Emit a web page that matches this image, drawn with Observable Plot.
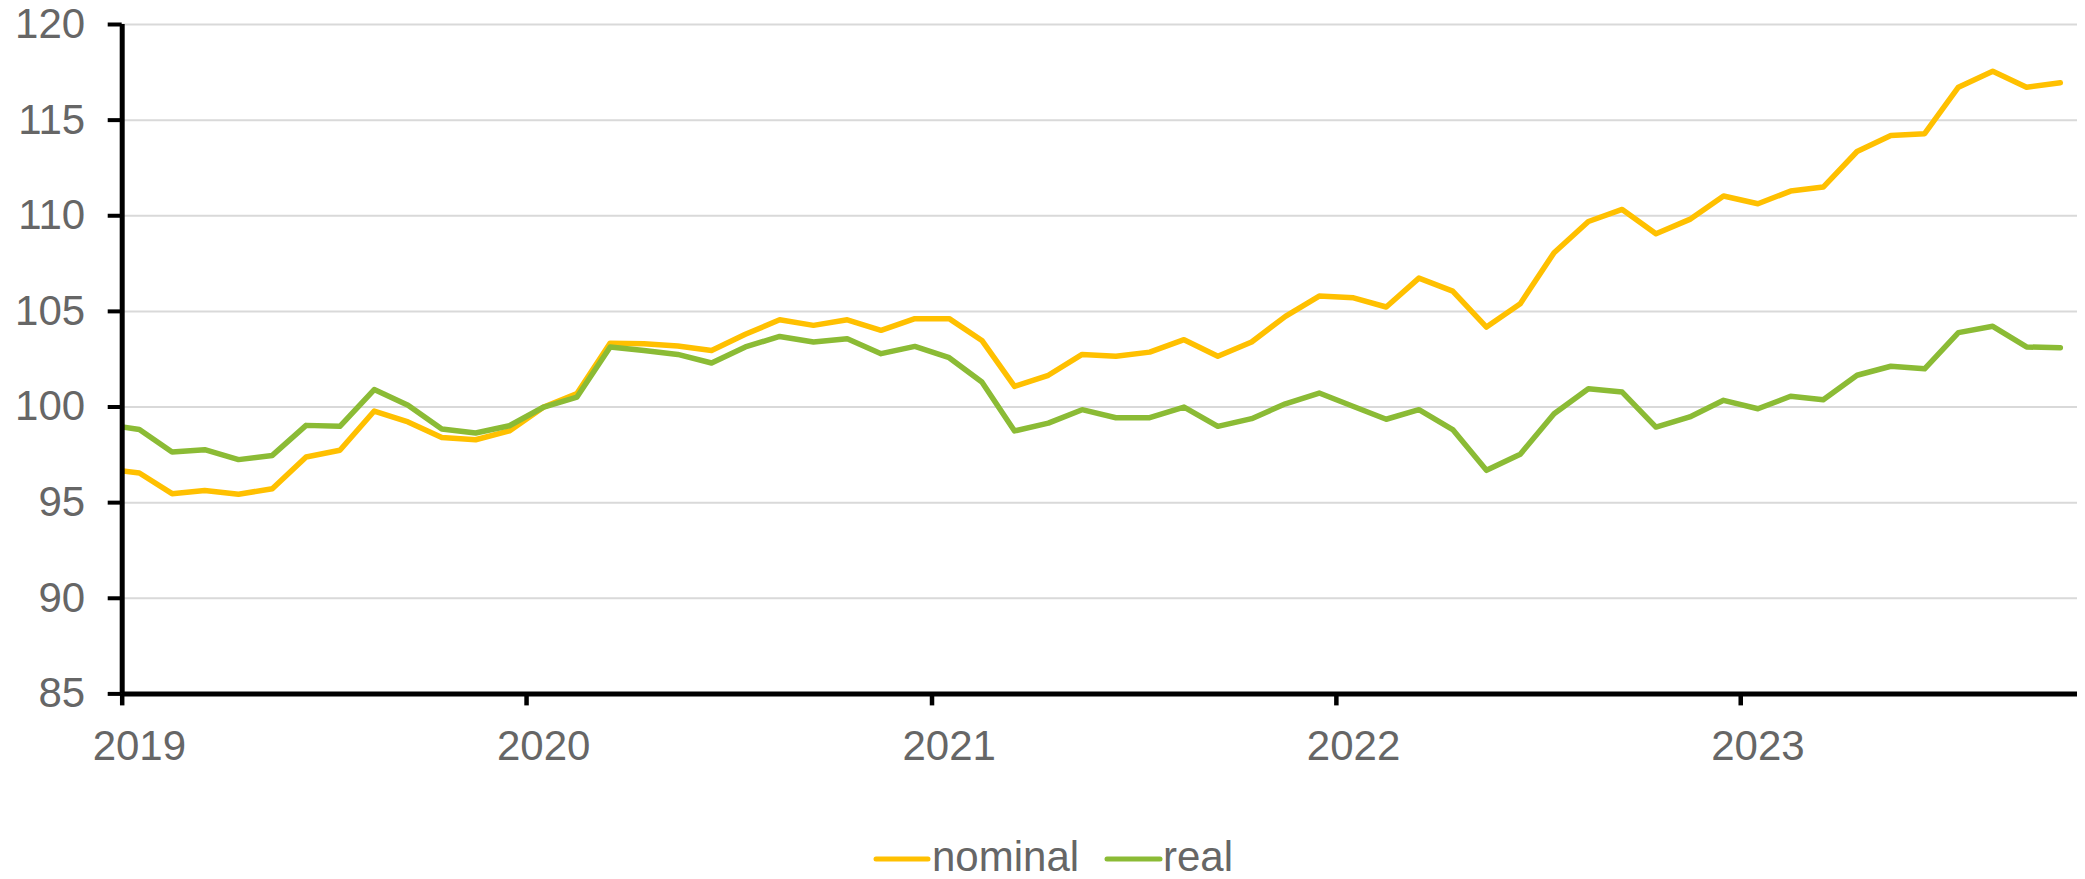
<!DOCTYPE html>
<html><head><meta charset="utf-8">
<script src="https://cdn.jsdelivr.net/npm/d3@7"></script>
<script src="https://cdn.jsdelivr.net/npm/@observablehq/plot@0.6"></script>
<style>
body{margin:0;background:#fff;font-family:"Liberation Sans",Arial,sans-serif;}
#chart svg,#legend svg{display:block}
</style></head><body>
<div id="chart"></div>
<div id="legend"></div>
<script>
// monthly observations, Dec 2018 .. Oct 2023 (Dec 2018 lies left of the axis and is clipped)
const firstMonth = "2018-12-01";
const lastMonth = "2023-10-01";
const nominal = [96.76,
  96.55, 95.47, 95.64, 95.44, 95.73, 97.39, 97.74, 99.79, 99.22, 98.40, 98.29, 98.75,
  100.00, 100.70, 103.34, 103.31, 103.19, 102.96, 103.80, 104.56, 104.27, 104.56, 104.01, 104.62,
  104.62, 103.48, 101.08, 101.66, 102.75, 102.65, 102.87, 103.52, 102.65, 103.40, 104.74, 105.80,
  105.71, 105.23, 106.74, 106.06, 104.18, 105.40, 108.07, 109.70, 110.33, 109.06, 109.81, 111.03,
  110.63, 111.29, 111.50, 113.36, 114.20, 114.29, 116.72, 117.56, 116.72, 116.95];
const real = [99.10,
  98.82, 97.65, 97.77, 97.25, 97.47, 99.04, 98.99, 100.91, 100.09, 98.85, 98.64, 99.02,
  100.00, 100.52, 103.14, 102.96, 102.75, 102.30, 103.14, 103.69, 103.40, 103.57, 102.79, 103.17,
  102.58, 101.31, 98.75, 99.16, 99.86, 99.44, 99.44, 100.00, 98.99, 99.39, 100.17, 100.73,
  100.03, 99.36, 99.86, 98.82, 96.69, 97.53, 99.65, 100.96, 100.78, 98.95, 99.48, 100.35,
  99.91, 100.56, 100.38, 101.66, 102.13, 102.00, 103.89, 104.22, 103.14, 103.10];
const seriesNames = ["nominal", "real"];
const seriesColors = ["#FFC000", "#8BBB35"];
const yearLabels = ["2019", "2020", "2021", "2022", "2023"];
const yTicks = [85, 90, 95, 100, 105, 110, 115, 120];
const axisStart = "2019-01-01";
const axisEnd = "2023-11-01";

const textColor = "#666666";
const months = d3.utcMonth.range(new Date(firstMonth), d3.utcMonth.offset(new Date(lastMonth), 1));
const mid = m => new Date((m.getTime() + d3.utcMonth.offset(m, 1).getTime()) / 2);
const table = months.flatMap((m, i) => [
  {date: mid(m), value: nominal[i], series: seriesNames[0]},
  {date: mid(m), value: real[i], series: seriesNames[1]}
]);
const yearStarts = yearLabels.map(y => new Date(`${y}-01-01`));
const yearMids = yearStarts.map(mid);

const chart = Plot.plot({
  width: 2085,
  height: 800,
  marginTop: 24,
  marginBottom: 106.6,
  marginLeft: 121.7,
  marginRight: 8,
  x: {type: "utc", domain: [new Date(axisStart), new Date(axisEnd)]},
  y: {domain: [85, 120]},
  color: {domain: seriesNames, range: seriesColors},
  style: {fontFamily: "'Liberation Sans', Arial, sans-serif", background: "white", overflow: "visible"},
  marks: [
    Plot.gridY(yTicks, {stroke: "#d9d9d9", strokeOpacity: 1, strokeWidth: 2}),
    Plot.line(table, {x: "date", y: "value", z: "series", stroke: "series", strokeWidth: 5.5,
      strokeLinejoin: "round", strokeLinecap: "round", clip: true}),
    Plot.ruleX([new Date(axisStart)], {stroke: "black", strokeWidth: 5}),
    Plot.ruleY([85], {stroke: "black", strokeWidth: 5}),
    Plot.axisY({ticks: yTicks, tickSize: 14, tickPadding: 23, stroke: "black", strokeWidth: 4,
      fill: textColor, fontSize: 42, label: null}),
    Plot.axisX({ticks: yearStarts, tickSize: 12, tickFormat: () => "", stroke: "black", strokeWidth: 4.5, label: null}),
    Plot.axisX({ticks: yearMids, tickSize: 0, tickPadding: 36, tickFormat: d => String(d.getUTCFullYear()),
      fill: textColor, fontSize: 42, label: null})
  ]
});
document.getElementById("chart").appendChild(chart);

// legend below the chart
const leg = d3.select("#legend").append("svg").attr("width", 2085).attr("height", 79)
  .style("font-family", "'Liberation Sans', Arial, sans-serif");
const legItems = [
  {name: seriesNames[0], color: seriesColors[0], x1: 876, x2: 928, tx: 932},
  {name: seriesNames[1], color: seriesColors[1], x1: 1107, x2: 1160, tx: 1163}
];
legItems.forEach(it => {
  leg.append("line").attr("x1", it.x1).attr("x2", it.x2).attr("y1", 59).attr("y2", 59)
    .attr("stroke", it.color).attr("stroke-width", 5).attr("stroke-linecap", "round");
  leg.append("text").attr("x", it.tx).attr("y", 71).attr("font-size", 42).attr("fill", textColor).text(it.name);
});
</script>
</body></html>
